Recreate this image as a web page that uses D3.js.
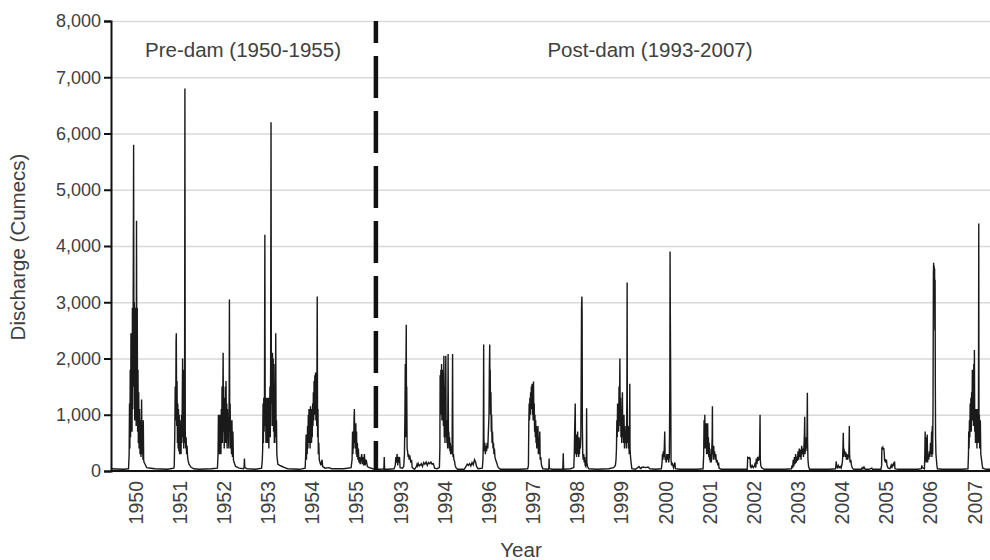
<!DOCTYPE html>
<html>
<head>
<meta charset="utf-8">
<script src="https://cdn.jsdelivr.net/npm/d3@7"></script>
<style>
  body { margin: 0; background: #fff; }
  text { font-family: "Liberation Sans", Arial, sans-serif; }
</style>
</head>
<body>
<div id="chart-area"></div>
<script>
// year labels, in plotting order (1995 is not in the record)
let years = ["1950", "1951", "1952", "1953", "1954", "1955",
             "1993", "1994", "1996", "1997", "1998", "1999", "2000",
             "2001", "2002", "2003", "2004", "2005", "2006", "2007"];

let yTicks = [0, 1000, 2000, 3000, 4000, 5000, 6000, 7000, 8000];

// daily discharge: [day of year, cumecs]
let q1950 = [[0,40],[100,30],[145,40],[150,300],[153,1200],[156,400],[159,1800],[162,600],[165,2450],[168,900],[171,2200],[174,700],[177,2900],[180,1100],[184,3400],[187,5800],[190,1500],[193,3000],[196,900],[199,2900],[202,1200],[205,2800],[208,800],[211,4450],[214,1400],[217,2900],[220,700],[223,1800],[226,500],[229,1400],[232,400],[236,1100],[240,300],[244,900],[248,250],[253,1270],[257,300],[261,700],[264,200],[267,900],[270,200],[274,150],[282,120],[295,60],[330,50],[365,40]];
let q1951 = [[0,40],[100,30],[155,50],[158,100],[162,600],[166,1500],[170,900],[173,2300],[175,2450],[178,800],[181,1600],[184,500],[187,1200],[190,400],[193,1100],[196,350],[199,1000],[202,300],[205,900],[208,400],[211,700],[214,300],[218,1000],[221,500],[224,1200],[227,2000],[230,600],[233,1800],[236,400],[239,900],[243,500],[246,6800],[249,700],[252,400],[256,600],[260,300],[264,450],[268,250],[273,180],[280,120],[295,70],[320,40],[365,30]];
let q1952 = [[0,30],[100,40],[150,50],[155,300],[158,1000],[161,400],[164,900],[167,300],[170,1000],[173,500],[176,800],[179,300],[182,1100],[185,600],[188,1500],[191,500],[194,1200],[197,2100],[200,700],[203,1300],[206,400],[209,1000],[212,600],[215,1500],[218,500],[221,1600],[224,800],[227,1200],[230,400],[233,1100],[236,600],[240,900],[244,400],[247,1400],[249,3050],[252,700],[255,1200],[258,400],[262,900],[266,300],[270,900],[274,250],[278,700],[282,200],[288,150],[300,80],[330,50],[365,40]];
let q1953 = [[0,40],[5,60],[8,220],[11,60],[30,40],[100,30],[150,50],[156,200],[159,400],[162,1200],[165,500],[168,1300],[171,700],[174,1400],[177,4200],[180,800],[183,1300],[186,500],[189,1200],[192,700],[195,1300],[198,500],[201,1100],[204,600],[207,1300],[210,400],[213,1000],[216,700],[219,1500],[222,600],[225,2000],[228,6200],[231,1200],[234,2000],[237,800],[240,2100],[243,900],[246,2000],[249,700],[252,1900],[255,500],[258,1500],[261,600],[264,1200],[267,2450],[270,500],[273,900],[276,300],[280,200],[285,120],[300,100],[320,80],[340,60],[365,40]];
let q1954 = [[0,40],[100,30],[145,50],[150,300],[153,650],[156,200],[159,600],[162,300],[165,800],[168,400],[171,1000],[174,500],[177,1100],[180,600],[183,1000],[186,400],[189,1150],[192,700],[195,1100],[198,500],[201,1000],[204,600],[207,1200],[210,800],[213,1400],[216,900],[219,1600],[222,1000],[225,1700],[228,1200],[231,1750],[234,900],[238,1500],[241,800],[245,3100],[248,600],[251,1100],[254,300],[258,500],[262,200],[268,150],[275,100],[285,200],[290,80],[310,50],[340,60],[365,40]];
let q1955 = [[0,40],[100,40],[160,60],[168,200],[172,700],[175,300],[178,650],[181,400],[184,900],[187,1100],[190,500],[193,800],[196,400],[199,850],[202,300],[205,700],[208,250],[212,500],[216,200],[220,400],[225,150],[230,250],[235,120],[240,200],[248,300],[252,120],[258,250],[264,100],[270,300],[276,100],[285,200],[295,80],[310,60],[340,40],[365,30]];
let q1993 = [[0,30],[40,30],[60,40],[66,30],[69,250],[72,30],[100,30],[150,40],[160,100],[165,250],[170,150],[175,300],[180,100],[185,250],[190,150],[195,250],[200,60],[220,50],[230,80],[236,300],[240,1000],[243,1900],[246,600],[249,2000],[251,2600],[253,800],[255,1500],[258,400],[262,350],[266,250],[270,300],[275,200],[280,280],[288,150],[295,200],[300,60],[320,30],[335,80],[340,120],[345,90],[350,130],[355,100],[365,110]];
let q1994 = [[0,100],[10,130],[20,80],[30,150],[40,120],[50,160],[60,100],[70,150],[80,130],[90,160],[100,120],[110,130],[120,50],[140,40],[160,60],[164,400],[166,1700],[169,1000],[172,1800],[175,1200],[178,1900],[181,900],[184,1800],[187,1100],[190,1700],[193,800],[197,2050],[200,600],[203,1500],[206,500],[209,1200],[213,2050],[216,600],[219,900],[222,500],[225,800],[228,400],[232,2080],[235,500],[238,700],[241,400],[244,600],[247,350],[250,500],[253,300],[256,450],[260,300],[265,400],[269,2080],[272,250],[276,300],[280,200],[285,180],[290,100],[297,60],[310,30],[365,30]];
let q1996 = [[0,30],[15,80],[25,120],[35,100],[45,130],[55,90],[65,150],[75,110],[85,200],[95,150],[102,80],[115,40],[150,50],[155,200],[158,500],[161,2250],[163,600],[166,350],[170,500],[175,300],[180,450],[185,350],[190,500],[195,400],[200,700],[205,1000],[208,1800],[211,2250],[213,1500],[215,1800],[218,1000],[221,1400],[224,700],[227,1000],[230,500],[234,700],[238,400],[242,500],[246,300],[250,400],[254,250],[260,200],[268,150],[275,100],[282,60],[300,30],[365,30]];
let q1997 = [[0,30],[100,30],[160,40],[166,100],[169,800],[172,1200],[175,900],[178,1300],[181,1000],[184,1400],[187,1100],[190,1500],[193,1200],[196,1550],[199,1000],[202,1400],[205,900],[208,1590],[211,1000],[214,1200],[217,700],[220,1000],[223,600],[226,900],[229,500],[232,800],[235,400],[238,700],[241,500],[245,800],[248,300],[252,600],[256,300],[260,700],[263,200],[268,250],[274,100],[285,40],[330,30],[335,50],[337,220],[339,40],[365,30]];
let q1998 = [[0,30],[60,30],[85,30],[89,314],[92,30],[150,40],[176,60],[180,300],[183,700],[186,1000],[188,1200],[190,400],[193,300],[196,650],[199,250],[202,600],[205,400],[208,700],[211,300],[214,500],[217,250],[220,600],[223,300],[226,500],[230,400],[234,600],[237,1500],[240,2900],[243,3100],[245,2800],[247,800],[250,300],[254,200],[258,300],[262,150],[266,250],[270,100],[275,80],[280,200],[282,1114],[284,150],[290,80],[300,40],[365,30]];
let q1999 = [[0,30],[100,40],[140,60],[155,100],[160,200],[164,400],[167,900],[170,600],[173,1200],[176,800],[179,1100],[182,700],[185,1500],[188,900],[192,2000],[195,800],[198,1300],[201,600],[204,1100],[207,500],[210,1000],[213,1400],[216,600],[219,900],[222,500],[226,1000],[230,400],[234,800],[238,500],[242,700],[246,400],[250,1400],[252,3350],[254,600],[257,500],[260,800],[263,400],[266,600],[269,300],[272,900],[274,1550],[276,400],[280,250],[285,150],[291,40],[320,30],[340,60],[350,80],[360,50],[365,40]];
let q2000 = [[0,30],[5,60],[20,70],[40,60],[60,70],[75,40],[120,30],[170,40],[176,150],[179,300],[183,200],[186,350],[190,250],[194,400],[198,700],[201,200],[205,250],[210,150],[215,300],[220,200],[225,300],[230,150],[236,250],[240,1500],[242,3900],[244,2800],[246,2100],[248,1200],[250,200],[255,100],[260,150],[270,60],[278,120],[282,150],[286,40],[320,30],[365,30]];
let q2001 = [[0,30],[100,30],[150,40],[155,300],[158,900],[161,400],[164,1000],[167,500],[170,800],[173,400],[176,850],[179,300],[182,700],[185,350],[188,850],[191,300],[194,600],[197,250],[200,500],[203,200],[206,400],[210,150],[214,300],[218,150],[222,400],[225,600],[227,1150],[229,300],[232,400],[235,200],[238,450],[241,250],[245,350],[250,200],[255,300],[260,150],[266,200],[272,100],[278,150],[282,50],[300,30],[365,30]];
let q2002 = [[0,30],[100,30],[150,30],[154,240],[160,230],[166,240],[170,220],[174,240],[176,80],[182,60],[190,100],[200,60],[210,90],[216,150],[220,60],[225,220],[230,120],[236,250],[242,180],[248,220],[252,300],[256,1000],[258,200],[262,100],[268,60],[275,50],[290,30],[365,30]];
let q2003 = [[0,30],[100,30],[150,40],[155,100],[160,50],[165,200],[170,80],[175,250],[180,120],[185,300],[190,150],[195,250],[200,180],[205,350],[210,200],[215,400],[220,250],[225,380],[230,200],[235,450],[240,300],[245,400],[250,250],[255,500],[258,700],[260,965],[263,300],[266,500],[270,350],[274,600],[278,400],[280,900],[282,1393],[284,500],[287,200],[292,80],[300,30],[365,30]];
let q2004 = [[0,30],[100,30],[150,40],[153,100],[156,170],[159,80],[165,60],[172,100],[180,60],[188,80],[196,50],[204,120],[208,200],[211,400],[214,680],[217,250],[220,400],[224,300],[228,350],[232,250],[236,330],[240,200],[245,300],[250,200],[255,250],[260,300],[262,500],[264,800],[266,300],[270,150],[276,200],[282,100],[290,50],[300,30],[365,30]];
let q2005 = [[0,30],[5,60],[12,40],[20,70],[30,30],[60,30],[85,50],[90,30],[160,30],[166,100],[168,420],[172,400],[176,420],[180,380],[184,410],[188,300],[190,200],[194,180],[198,210],[202,150],[206,200],[210,100],[220,50],[235,40],[245,100],[250,50],[255,120],[260,80],[265,150],[270,100],[273,170],[276,40],[300,30],[365,30]];
let q2006 = [[0,30],[100,30],[130,40],[133,100],[137,60],[155,40],[158,300],[161,700],[163,200],[166,600],[169,150],[172,550],[175,250],[178,650],[181,150],[185,300],[190,200],[195,350],[200,250],[205,500],[210,300],[214,700],[217,250],[220,800],[223,300],[226,1200],[229,3500],[231,3700],[233,3000],[235,3650],[237,3200],[239,3600],[241,2500],[243,3400],[245,1500],[247,600],[250,300],[254,200],[258,100],[262,40],[300,30],[365,30]];
let q2007 = [[0,30],[100,30],[150,40],[154,300],[156,700],[159,400],[162,900],[165,600],[168,1200],[171,800],[174,1300],[177,700],[180,1400],[183,900],[186,1800],[189,1000],[192,1500],[195,800],[198,1900],[201,1200],[203,2150],[206,700],[209,1000],[212,500],[215,1100],[218,600],[221,1000],[224,400],[227,1100],[230,600],[233,1000],[236,500],[239,4400],[241,800],[244,1000],[247,400],[252,900],[256,300],[262,200],[268,100],[272,50],[300,30],[365,30]];

let flows = [q1950, q1951, q1952, q1953, q1954, q1955,
             q1993, q1994, q1996, q1997, q1998, q1999, q2000,
             q2001, q2002, q2003, q2004, q2005, q2006, q2007];

let width = 990, height = 560;
let margin = {left: 111, top: 21, bottom: 89};

let svgCanvas = d3.select("#chart-area")
                    .append("svg")
                    .attr("width", width)
                    .attr("height", height);

// each year gets the same slot width; position = slot index + day/365
let x = d3.scaleLinear()
          .domain([0, years.length])
          .range([margin.left, 994]);

let y = d3.scaleLinear()
          .domain([0, 8000])
          .range([height - margin.bottom, margin.top]);

let series = [];
flows.forEach((yr, i) => {
    yr.forEach(d => series.push({t: i + d[0] / 365, q: d[1]}));
});

// gridlines
svgCanvas.append("g")
    .attr("transform", "translate(" + margin.left + ",0)")
    .call(d3.axisLeft(y).tickValues(yTicks).tickSize(-(width - margin.left)).tickFormat(""))
    .call(g => g.select(".domain").remove())
    .call(g => g.selectAll("line").attr("stroke", "#d9d9d9").attr("stroke-width", 1.5));

// hydrograph
let line = d3.line()
             .x(d => x(d.t))
             .y(d => y(d.q));

svgCanvas.append("path")
    .datum(series)
    .attr("fill", "none")
    .attr("stroke", "#1a1a1a")
    .attr("stroke-width", 1.4)
    .attr("stroke-linejoin", "miter")
    .attr("d", line);

// dam divider
svgCanvas.append("line")
    .attr("x1", x(6)).attr("x2", x(6))
    .attr("y1", y(8000)).attr("y2", y(0))
    .attr("stroke", "#111")
    .attr("stroke-width", 4.5)
    .attr("stroke-dasharray", "42,13")
    .attr("stroke-dashoffset", 20);

// y axis
let yAxis = svgCanvas.append("g")
    .attr("transform", "translate(" + margin.left + ",0)")
    .call(d3.axisLeft(y).tickValues(yTicks).tickSize(7).tickPadding(3).tickFormat(d3.format(",")));
yAxis.select(".domain").attr("stroke", "#111").attr("stroke-width", 2);
yAxis.selectAll("line").attr("stroke", "#111").attr("stroke-width", 2);
yAxis.selectAll("text").attr("font-size", 18).attr("fill", "#404040");

// x axis
svgCanvas.append("line")
    .attr("x1", margin.left).attr("x2", width)
    .attr("y1", y(0)).attr("y2", y(0))
    .attr("stroke", "#111")
    .attr("stroke-width", 2);

svgCanvas.selectAll(".year")
    .data(years)
    .enter().append("text")
    .attr("class", "year")
    .attr("transform", (d, i) => "translate(" + (x(i + 0.56) + 7) + "," + 481 + ") rotate(-90)")
    .attr("text-anchor", "end")
    .attr("font-size", 19.5)
    .attr("fill", "#404040")
    .text(d => d);

// titles
svgCanvas.append("text")
    .attr("x", 521).attr("y", 557)
    .attr("text-anchor", "middle")
    .attr("font-size", 20.5)
    .attr("fill", "#404040")
    .text("Year");

svgCanvas.append("text")
    .attr("transform", "translate(25,247) rotate(-90)")
    .attr("text-anchor", "middle")
    .attr("font-size", 20.5)
    .attr("fill", "#404040")
    .text("Discharge (Cumecs)");

svgCanvas.append("text")
    .attr("x", 243).attr("y", 57)
    .attr("text-anchor", "middle")
    .attr("font-size", 20.5)
    .attr("fill", "#404040")
    .text("Pre-dam (1950-1955)");

svgCanvas.append("text")
    .attr("x", 650).attr("y", 57)
    .attr("text-anchor", "middle")
    .attr("font-size", 20.5)
    .attr("fill", "#404040")
    .text("Post-dam (1993-2007)");
</script>
</body>
</html>
